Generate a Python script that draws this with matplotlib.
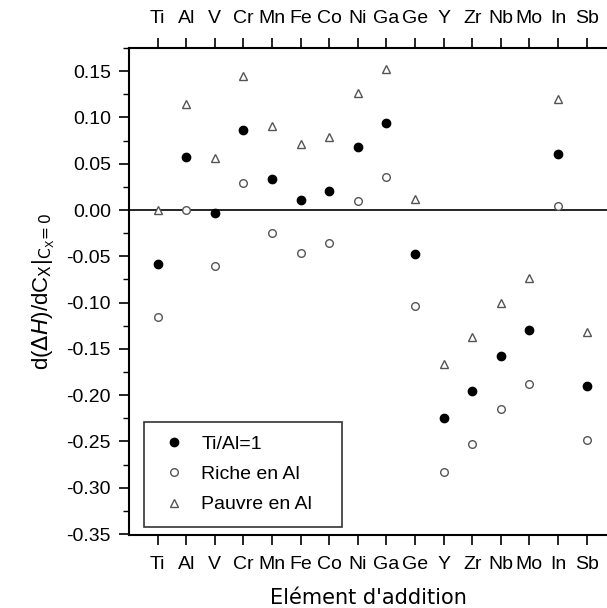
import numpy as np
import matplotlib.pyplot as plt
from matplotlib.ticker import MultipleLocator

# elements d'addition
elements = ["Ti", "Al", "V", "Cr", "Mn", "Fe", "Co", "Ni", "Ga", "Ge",
            "Y", "Zr", "Nb", "Mo", "In", "Sb"]

# Ti/Al=1
stoech = [-0.058, 0.057, -0.003, 0.086, 0.033, 0.011, 0.021, 0.068, 0.094, -0.047,
          -0.225, -0.195, -0.158, -0.130, 0.061, -0.190]
# riche en Al
riche = [-0.116, 0.000, -0.060, 0.029, -0.025, -0.046, -0.036, 0.010, 0.036, -0.104,
         -0.283, -0.253, -0.215, -0.188, 0.004, -0.248]
# pauvre en Al
pauvre = [0.000, 0.115, 0.056, 0.145, 0.091, 0.071, 0.079, 0.126, 0.152, 0.012,
          -0.166, -0.137, -0.100, -0.073, 0.120, -0.132]

plt.rcParams['font.family'] = ['Liberation Sans', 'DejaVu Sans']

fig = plt.figure(figsize=(6.07, 6.08), dpi=100)
ax = fig.add_axes([129/607, 1-535/608, 1-129/607, (535-48)/608])

x = np.arange(1, len(elements)+1)
ax.axhline(0, color='k', lw=1.2, zorder=1)
ax.plot(x, stoech, 'o', ms=6, mfc='k', mec='k', ls='none', label='Ti/Al=1')
ax.plot(x, riche, 'o', ms=5.5, mfc='white', mec='#555555', mew=1.0, ls='none', label='Riche en Al')
ax.plot(x, pauvre, '^', ms=5.5, mfc='white', mec='#555555', mew=1.0, ls='none', label='Pauvre en Al')

ax.set_xlim(0, (607-129)/28.6)
ax.set_ylim(-0.351, 0.175)
ax.set_xticks(x)
ax.set_xticklabels(elements)
ax.yaxis.set_major_locator(MultipleLocator(0.05))
ax.yaxis.set_minor_locator(MultipleLocator(0.025))
ax.yaxis.set_major_formatter(plt.FuncFormatter(lambda v, p: "%.2f" % v))
ax.tick_params(axis='x', which='both', top=True, labeltop=True, direction='out',
               length=7, width=1.2, labelsize=14, pad=8)
ax.tick_params(axis='y', which='major', direction='out', length=7, width=1.2,
               labelsize=14, pad=6)
ax.tick_params(axis='y', which='minor', direction='out', length=4, width=1.0)
ax.spines['right'].set_visible(False)
for s in ['left', 'top', 'bottom']:
    ax.spines[s].set_linewidth(1.5)

ax.set_xlabel("Elément d'addition", family='DejaVu Sans', fontsize=15, labelpad=11)
ax.set_ylabel(r"d($\Delta$$\it{H}$)/dC$_{\rm X}$|$_{\rm C_X\!=0}$", fontsize=16, labelpad=7)

leg = ax.legend(loc='lower left', bbox_to_anchor=(15/478, 8/487, 198/478, 0.2), mode='expand',
                frameon=True, fancybox=False, edgecolor='k', fontsize=14,
                borderpad=0.7, labelspacing=0.65, handletextpad=0.55, handlelength=1.7,
                borderaxespad=0)
leg.get_frame().set_linewidth(1.2)

fig.savefig("out.png", dpi=100)
